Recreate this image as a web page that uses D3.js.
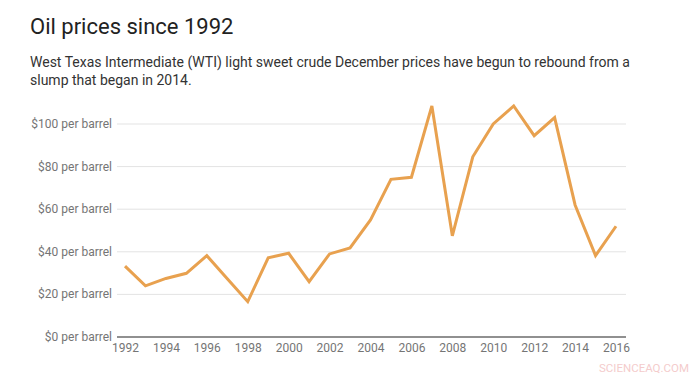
<!DOCTYPE html>
<html>
<head>
<meta charset="utf-8">
<script src="https://cdn.jsdelivr.net/npm/d3@7"></script>
<style>
  html, body { margin: 0; padding: 0; background: #fff; }
  svg { display: block; font-family: Roboto, "Noto Sans", sans-serif; }
</style>
</head>
<body>
<svg id="chart" width="700" height="382"></svg>
<script>
const years = [1992,1993,1994,1995,1996,1997,1998,1999,2000,2001,2002,2003,2004,2005,2006,2007,2008,2009,2010,2011,2012,2013,2014,2015,2016];
const prices = [33.3,24,27.5,29.9,38.2,27.4,16.6,37.2,39.3,26,39,41.8,55,74,75,108.5,47.5,84.6,100,108.5,94.5,103,62,38.2,52];
const yTicks = [0,20,40,60,80,100];
const xTicks = [1992,1994,1996,1998,2000,2002,2004,2006,2008,2010,2012,2014,2016];

const svg = d3.select("#chart");
const plotLeft = 117, plotRight = 626, plotTop = 124, plotBottom = 337;

const x = d3.scaleLinear().domain([1992, 2016]).range([125, 616]);
const y = d3.scaleLinear().domain([0, 100]).range([plotBottom, plotTop]);

svg.append("text").attr("x", 30).attr("y", 34)
  .attr("font-size", 22).attr("fill", "#222").text("Oil prices since 1992");
svg.append("text").attr("x", 30).attr("y", 67)
  .attr("font-size", 14).attr("fill", "#333")
  .text("West Texas Intermediate (WTI) light sweet crude December prices have begun to rebound from a");
svg.append("text").attr("x", 30).attr("y", 85)
  .attr("font-size", 14).attr("fill", "#333")
  .text("slump that began in 2014.");

// gridlines
const g = svg.append("g");
g.selectAll("line.grid").data(yTicks.filter(d => d > 0)).enter().append("line")
  .attr("x1", plotLeft).attr("x2", plotRight)
  .attr("y1", d => y(d)).attr("y2", d => y(d))
  .attr("stroke", "#e3e3e3").attr("stroke-width", 1);

// y labels
g.selectAll("text.ylab").data(yTicks).enter().append("text")
  .attr("x", 112).attr("y", d => y(d) + 4)
  .attr("text-anchor", "end").attr("font-size", 12).attr("fill", "#757575")
  .text(d => "$" + d + " per barrel");

// x axis
const xAxis = d3.axisBottom(x).tickValues(xTicks).tickFormat(d3.format("d")).tickSize(0).tickPadding(6);
const ax = svg.append("g").attr("transform", `translate(0,${plotBottom})`).call(xAxis);
ax.select(".domain").remove();
ax.selectAll("text").attr("font-size", 12).attr("fill", "#757575").attr("font-family", "Roboto, sans-serif");
svg.append("line").attr("x1", plotLeft).attr("x2", plotRight).attr("y1", plotBottom).attr("y2", plotBottom)
  .attr("stroke", "#222").attr("stroke-width", 1.2);

// line
const line = d3.line().x((d, i) => x(years[i])).y(d => y(d));
svg.append("path").datum(prices)
  .attr("d", line).attr("fill", "none")
  .attr("stroke", "#E8A14F").attr("stroke-width", 3)
  .attr("stroke-linejoin", "miter");

svg.append("text").attr("x", 689).attr("y", 372)
  .attr("text-anchor", "end").attr("font-size", 11.5).attr("fill", "#f4cccc")
  .text("SCIENCEAQ.COM");
</script>
</body>
</html>
